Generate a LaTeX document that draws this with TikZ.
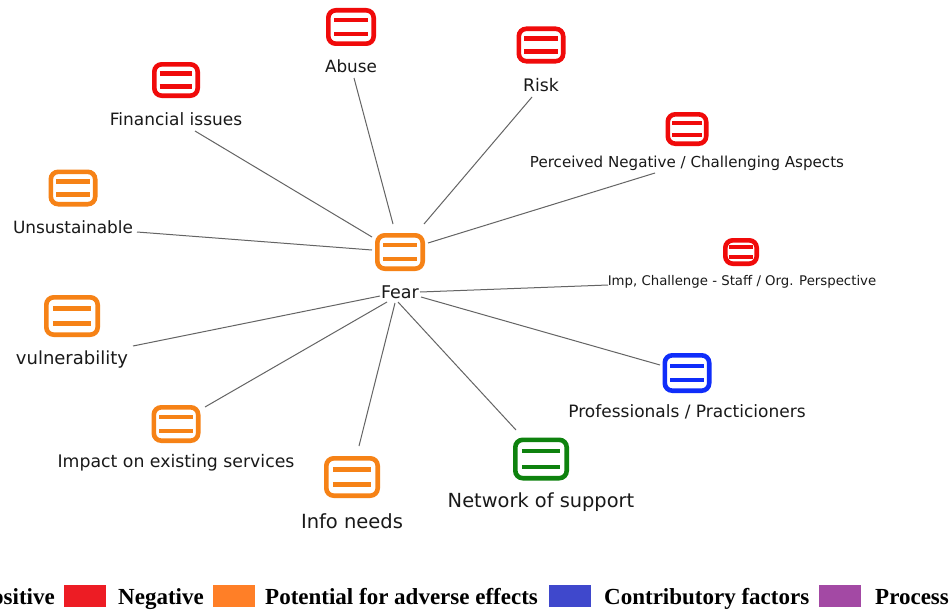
\documentclass[tikz,border=0pt]{standalone}
\usepackage{fontspec}
\setmainfont{DejaVu Sans}
\newfontfamily\legfont{Liberation Serif}
\usetikzlibrary{calc}
\definecolor{cred}{RGB}{240,10,10}
\definecolor{corange}{RGB}{246,130,22}
\definecolor{cblue}{RGB}{15,45,250}
\definecolor{cgreen}{RGB}{14,130,14}
\definecolor{lred}{RGB}{237,28,36}
\definecolor{lorange}{RGB}{255,127,39}
\definecolor{lblue}{RGB}{63,72,204}
\definecolor{lpurple}{RGB}{163,73,164}
\definecolor{linkgray}{RGB}{100,100,100}
\definecolor{txt}{RGB}{25,25,25}
\newcommand\iconnode[6]{%
  \node[draw=#6, line width=4.6, rounded corners=7.5, minimum width=#4-4.6, minimum height=#5-4.6, fill=white, inner sep=0] (#1) at (#2,#3) {};
  \draw[#6, line width=4.4] ($(#1)+(-0.34*#4,-0.18*#5)$) -- ($(#1)+(0.34*#4,-0.18*#5)$);
  \draw[#6, line width=4.4] ($(#1)+(-0.34*#4,0.18*#5)$) -- ($(#1)+(0.34*#4,0.18*#5)$);
}
\tikzset{
  lab/.style={text=txt, inner sep=1, font=\fontsize{#1}{#1}\selectfont},
  link/.style={draw=linkgray, line width=1},
  legtext/.style={anchor=base west, inner sep=0, text=black, font=\legfont\bfseries\fontsize{23}{23}\selectfont},
}
\begin{document}
\begin{tikzpicture}[x=1pt,y=-1pt]
\useasboundingbox (0,0) rectangle (952,610);
\fill[white] (0,0) rectangle (952,610);

% icons
\iconnode{fear}{400}{252}{50}{38}{corange}
\iconnode{abuse}{351}{27}{50}{38}{cred}
\iconnode{risk}{541}{45}{49}{37}{cred}
\iconnode{fin}{176}{80}{48}{36}{cred}
\iconnode{perc}{687}{129}{43}{34}{cred}
\iconnode{unsus}{73}{188}{49}{37}{corange}
\iconnode{imp}{741}{252}{36}{28}{cred}
\iconnode{vuln}{72}{316}{56}{42}{corange}
\iconnode{prof}{687}{373}{49}{40}{cblue}
\iconnode{impact}{176}{424}{49}{38}{corange}
\iconnode{info}{352}{477}{56}{42}{corange}
\iconnode{net}{541}{459}{56}{43}{cgreen}

% labels
\node[lab=17.5] (fearl) at (400,292) {Fear};
\node[lab=16.8] (abusel) at (351,66) {Abuse};
\node[lab=17.3] (riskl) at (541,85) {Risk};
\node[lab=17] (finl) at (176,119) {Financial issues};
\node[lab=15.1] (percl) at (687,163) {Perceived Negative / Challenging Aspects};
\node[lab=16.9] (unsusl) at (73,227) {Unsustainable};
\node[lab=13.3] (impl) at (742,282) {Imp, Challenge - Staff / Org. Perspective};
\node[lab=18] (vulnl) at (72,360) {vulnerability};
\node[lab=17] (profl) at (687,412) {Professionals / Practicioners};
\node[lab=17.3] (impactl) at (176,463) {Impact on existing services};
\node[lab=19.5] (infol) at (352,521) {Info needs};
\node[lab=19.4] (netl) at (541,502) {Network of support};

% connectors
\draw[link] ($(fear)+(-7,-28)$) -- ($(abusel)+(3,12)$);
\draw[link] ($(fear)+(24,-28)$) -- ($(riskl)+(-9,12)$);
\draw[link] ($(fear)+(-28,-15)$) -- ($(finl)+(19,12)$);
\draw[link] ($(fear)+(28,-9)$) -- ($(percl)+(-32,10)$);
\draw[link] ($(fear)+(-28,-2)$) -- ($(unsusl)+(64,5)$);
\draw[link] ($(fearl)+(20,0)$) -- ($(impl)+(-134,3)$);
\draw[link] ($(fearl)+(21,5)$) -- ($(prof)+(-27,-8)$);
\draw[link] ($(fearl)+(-2,10)$) -- ($(net)+(-25,-29)$);
\draw[link] ($(fearl)+(-5,11)$) -- ($(info)+(7,-31)$);
\draw[link] ($(fearl)+(-13,10)$) -- ($(impact)+(29,-17)$);
\draw[link] ($(fearl)+(-20,4)$) -- ($(vulnl)+(61,-14)$);

% legend
\node[legtext, anchor=base east] (lpos) at (55,604) {Positive};
\fill[lred] (64,585) rectangle (106,607);
\node[legtext] (lneg) at (118,604) {Negative};
\fill[lorange] (213,585) rectangle (255,607);
\node[legtext] (lpot) at (265,604) {Potential for adverse effects};
\fill[lblue] (549,585) rectangle (591,607);
\node[legtext] (lcon) at (604,604) {Contributory factors};
\fill[lpurple] (819,585) rectangle (861,607);
\node[legtext] (lproc) at (875,604) {Process};
\end{tikzpicture}
\end{document}
